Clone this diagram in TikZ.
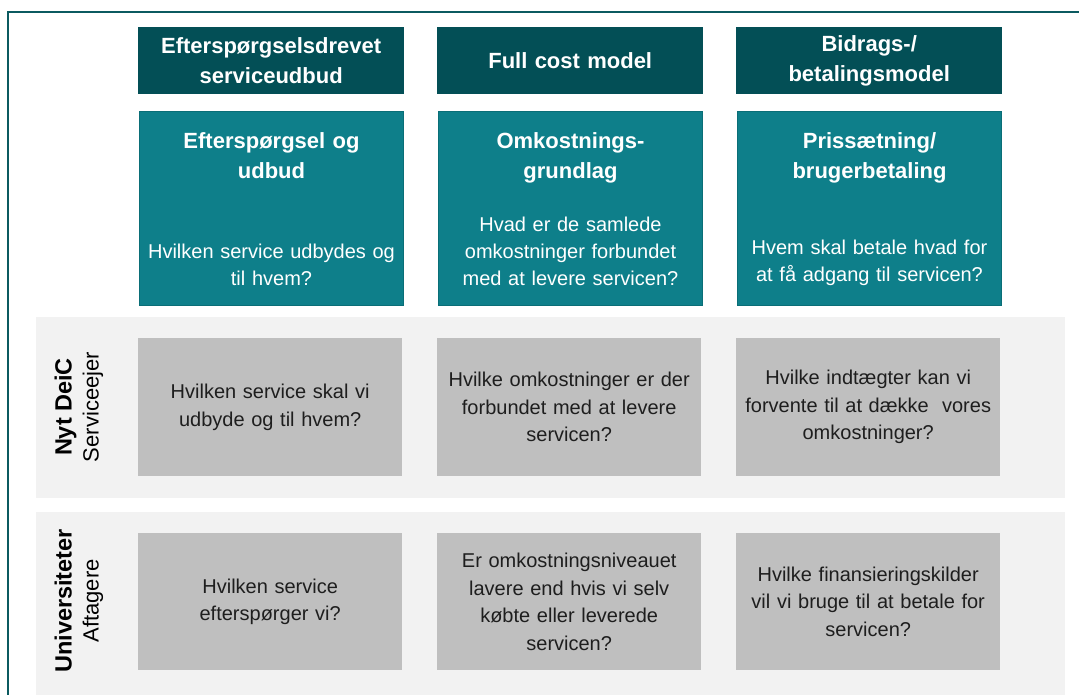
\documentclass[tikz,border=0pt]{standalone}
\usepackage{fontspec}
\setmainfont{Liberation Sans}
\definecolor{hdr}{HTML}{034F56}
\definecolor{tealbox}{HTML}{0E7F8A}
\definecolor{tealedge}{HTML}{0A6E77}
\definecolor{band}{HTML}{F2F2F2}
\definecolor{gbox}{HTML}{BFBFBF}
\definecolor{frame}{HTML}{0B5A60}
\definecolor{txt}{HTML}{1E1E1E}
\tikzset{
  hdrbox/.style={fill=hdr, anchor=north west, minimum width=266pt, minimum height=67pt, inner sep=0pt,
    text=white, font=\fontsize{22}{30}\selectfont\bfseries, align=center, text width=260pt},
  tealrect/.style={fill=tealbox, draw=tealedge, line width=1.5pt, anchor=north west, minimum width=264pt, minimum height=194pt, inner sep=0pt},
  ttitle/.style={text=white, font=\fontsize{22}{30}\selectfont\bfseries, align=center, text width=258pt, anchor=north, inner sep=0pt},
  tbody/.style={text=white, font=\fontsize{20}{27}\selectfont, align=center, text width=262pt, anchor=south, inner sep=0pt},
  bandrect/.style={fill=band, anchor=north west, minimum width=1029pt, inner sep=0pt},
  grect/.style={fill=gbox, anchor=north west, minimum width=264pt, minimum height=138pt, inner sep=0pt,
    text=txt, font=\fontsize{20}{27.5}\selectfont, align=center, text width=260pt},
  rowlbl/.style={rotate=90, text=black, align=center, inner sep=0pt, font=\fontsize{22}{27}\selectfont},
}
\begin{document}
\begin{tikzpicture}[x=1pt,y=-1pt]
\useasboundingbox[fill=white] (0,0) rectangle (1079,694);
% outer frame
\draw[frame, line width=2pt] (1090,12) -- (8,12) -- (8,710);
% headers
\node[hdrbox] (h1) at (138,27) {Efterspørgselsdrevet\\serviceudbud};
\node[hdrbox] (h2) at (437,27) {Full cost model};
\node[hdrbox] (h3) at (736,27) {Bidrags-/\\betalingsmodel};
% teal boxes
\node[tealrect] (t1) at (138.75,110.75) {};
\node[tealrect] (t2) at (437.75,110.75) {};
\node[tealrect] (t3) at (736.75,110.75) {};
\node[ttitle] (t1a) at ([yshift=-22pt]t1.north) {Efterspørgsel og\\udbud};
\node[ttitle] (t2a) at ([yshift=-22pt]t2.north) {Omkostnings-\\grundlag};
\node[ttitle] (t3a) at ([yshift=-22pt]t3.north) {Prissætning/\\brugerbetaling};
\node[tbody] (t1b) at ([yshift=20pt]t1.south) {Hvilken service udbydes og\\til hvem?};
\node[tbody] (t2b) at ([yshift=20pt]t2.south) {Hvad er de samlede\\omkostninger forbundet\\med at levere servicen?};
\node[tbody] (t3b) at ([yshift=20pt]t3.south) {Hvem skal betale hvad for\\at få adgang til servicen?};
% bands
\node[bandrect, minimum height=181pt] (b1) at (36,317) {};
\node[bandrect, minimum height=185pt] (b2) at (36,512) {};
% row labels
\node[rowlbl] (r1) at (79,407) {{\fontsize{23.5}{27}\selectfont\bfseries Nyt DeiC}\\Serviceejer};
\node[rowlbl] (r2) at (79,601) {{\fontsize{23.5}{27}\selectfont\bfseries Universiteter}\\Aftagere};
% grey boxes row 1
\node[grect] (g11) at (138,338) {Hvilken service skal vi\\udbyde og til hvem?};
\node[grect] (g12) at (437,338) {Hvilke omkostninger er der\\forbundet med at levere\\servicen?};
\node[grect] (g13) at (736,338) {Hvilke indtægter kan vi\\forvente til at dække~ vores\\omkostninger?};
% grey boxes row 2
\node[grect, minimum height=137pt] (g21) at (138,533) {Hvilken service\\efterspørger vi?};
\node[grect, minimum height=137pt] (g22) at (437,533) {Er omkostningsniveauet\\lavere end hvis vi selv\\købte eller leverede\\servicen?};
\node[grect, minimum height=137pt] (g23) at (736,533) {Hvilke finansieringskilder\\vil vi bruge til at betale for\\servicen?};
\end{tikzpicture}
\end{document}
